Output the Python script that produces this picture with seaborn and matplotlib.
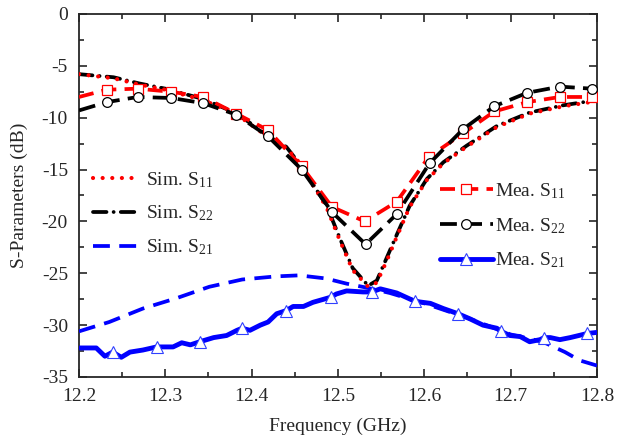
import numpy as np
import matplotlib
matplotlib.use("Agg")
import matplotlib.pyplot as plt
from matplotlib.ticker import MultipleLocator
import seaborn as sns

# ---- data ----
sim_s11_x = [12.20, 12.24, 12.27, 12.30, 12.344, 12.383, 12.418, 12.44, 12.456, 12.467,
             12.477, 12.487, 12.502, 12.517, 12.535, 12.545, 12.557, 12.568, 12.583,
             12.603, 12.622, 12.649, 12.684, 12.722, 12.761, 12.80]
sim_s11_y = [-5.8, -6.2, -6.8, -7.3, -8.3, -9.7, -11.8, -12.9, -14.4, -16.0,
             -17.3, -18.7, -21.8, -24.7, -26.3, -25.9, -23.7, -21.5, -18.6,
             -16.0, -14.4, -12.8, -10.9, -9.6, -8.9, -8.4]
sim_s22_y = [-5.8, -6.1, -6.7, -7.2, -8.2, -9.6, -11.7, -12.8, -14.5, -15.9,
             -17.2, -18.5, -21.6, -24.5, -26.2, -25.7, -23.4, -21.3, -18.5,
             -15.9, -14.3, -12.7, -10.8, -9.5, -8.8, -8.3]

sim_s21_x = [12.20, 12.235, 12.274, 12.313, 12.351, 12.389, 12.428, 12.455, 12.486,
             12.51, 12.534, 12.56, 12.60, 12.65, 12.70, 12.737, 12.763, 12.78, 12.80]
sim_s21_y = [-30.6, -29.7, -28.4, -27.4, -26.3, -25.6, -25.3, -25.2, -25.5,
             -26.0, -26.4, -26.9, -27.9, -29.3, -30.9, -31.6, -32.6, -33.4, -33.9]

mea_s11_x = [12.20, 12.232, 12.268, 12.307, 12.344, 12.382, 12.419, 12.458, 12.493,
             12.531, 12.568, 12.605, 12.645, 12.681, 12.719, 12.757, 12.794]
mea_s11_y = [-8.0, -7.3, -7.2, -7.5, -8.0, -9.6, -11.2, -14.7, -18.6,
             -20.0, -18.1, -13.8, -11.5, -9.4, -8.5, -8.0, -8.0]

mea_s22_x = [12.20, 12.232, 12.268, 12.307, 12.344, 12.382, 12.419, 12.458, 12.493,
             12.532, 12.568, 12.606, 12.645, 12.681, 12.719, 12.757, 12.794, 12.80]
mea_s22_y = [-9.3, -8.5, -8.0, -8.1, -8.6, -9.7, -11.8, -15.0, -19.1,
             -22.2, -19.3, -14.4, -11.1, -8.9, -7.6, -7.0, -7.2, -7.2]

mea_s21_x = [12.201, 12.220, 12.230, 12.239, 12.249, 12.259, 12.274, 12.290, 12.309,
             12.319, 12.329, 12.340, 12.356, 12.371, 12.383, 12.389, 12.398, 12.410,
             12.419, 12.429, 12.440, 12.448, 12.460, 12.471, 12.492, 12.498, 12.510,
             12.529, 12.539, 12.549, 12.568, 12.589, 12.607, 12.622, 12.639, 12.653,
             12.668, 12.684, 12.689, 12.699, 12.711, 12.722, 12.734, 12.739, 12.746,
             12.757, 12.769, 12.784, 12.789, 12.80]
mea_s21_y = [-32.2, -32.2, -33.0, -32.6, -33.1, -32.6, -32.4, -32.1, -32.1,
             -31.7, -31.9, -31.6, -31.2, -31.0, -30.5, -30.3, -30.5, -30.0,
             -29.7, -28.9, -28.6, -28.2, -28.2, -27.8, -27.3, -27.0, -26.7,
             -26.8, -26.8, -26.5, -26.9, -27.7, -27.9, -28.4, -28.9, -29.4,
             -30.0, -30.3, -30.6, -31.0, -31.1, -31.6, -31.4, -31.2, -31.2,
             -31.4, -31.2, -30.9, -30.8, -30.7]
mea_s21_marks = [12.239, 12.290, 12.340, 12.389, 12.440, 12.492, 12.539, 12.589,
                 12.639, 12.689, 12.739, 12.789]

sns.set_style("ticks")
plt.rcParams["font.family"] = ["Liberation Serif", "DejaVu Serif"]
plt.rcParams["mathtext.default"] = "regular"
plt.rcParams["axes.unicode_minus"] = False

fig = plt.figure(figsize=(6.29, 4.43), dpi=100)
ax = fig.add_axes([0.1256, 0.149, 0.8235, 0.8194])

mk_idx = list(np.where(np.isin(mea_s21_x, mea_s21_marks))[0])

# simulated
sns.lineplot(x=sim_s11_x, y=sim_s11_y, ax=ax, color="red", lw=3.0,
             linestyle=(0, (0.01, 2.3)), zorder=4, label="Sim. S$_{11}$")
sns.lineplot(x=sim_s11_x, y=sim_s22_y, ax=ax, color="black", lw=2.7,
             linestyle=(0, (3.6, 1.9, 0.01, 1.9)), zorder=3, label="Sim. S$_{22}$")
sns.lineplot(x=sim_s21_x, y=sim_s21_y, ax=ax, color="blue", lw=2.7,
             linestyle=(0, (4.5, 2.5)), zorder=3, label="Sim. S$_{21}$")

# measured
sns.lineplot(x=mea_s11_x, y=mea_s11_y, ax=ax, color="red", lw=2.7,
             linestyle=(0, (4.0, 2.2)), marker="s", markersize=6.5, mfc="white",
             mec="red", mew=0.9, markevery=list(range(1, len(mea_s11_x))),
             zorder=5, label="Mea. S$_{11}$")
sns.lineplot(x=mea_s22_x, y=mea_s22_y, ax=ax, color="black", lw=2.7,
             linestyle=(0, (4.5, 2.2)), marker="o", markersize=7, mfc="white",
             mec="black", mew=0.9, markevery=list(range(1, len(mea_s22_x) - 1)),
             zorder=5, label="Mea. S$_{22}$")
sns.lineplot(x=mea_s21_x, y=mea_s21_y, ax=ax, color="blue", lw=3.5,
             marker="^", markersize=8, mfc="white", mec="#3040ff", mew=0.8,
             markevery=mk_idx, zorder=5, label="Mea. S$_{21}$")

# round caps so the dotted / dash-dot lines show real dots
for ln in ax.lines[:2]:
    ln.set_dash_capstyle("round")

ax.set_xlim(12.2, 12.8)
ax.set_ylim(-35, 0)
ax.xaxis.set_major_locator(MultipleLocator(0.1))
ax.xaxis.set_minor_locator(MultipleLocator(0.05))
ax.yaxis.set_major_locator(MultipleLocator(5))
ax.yaxis.set_minor_locator(MultipleLocator(2.5))
ax.tick_params(which="both", direction="in", top=True, right=True, labelsize=14,
               width=1.2)
ax.tick_params(axis="x", pad=8)
ax.tick_params(axis="y", pad=8)
ax.tick_params(which="major", length=6)
ax.tick_params(which="minor", length=3.5)
for s in ax.spines.values():
    s.set_linewidth(1.3)
    s.set_visible(True)

ax.set_xlabel("Frequency (GHz)", fontsize=14, labelpad=9)
ax.set_ylabel("S-Parameters (dB)", fontsize=14, labelpad=10)

handles, labels = ax.get_legend_handles_labels()
for h in handles[:2]:
    h.set_dash_capstyle("round")
leg1 = ax.legend(handles[:3], labels[:3], loc="upper left", bbox_to_anchor=(0.027, 0.57),
                 frameon=False, fontsize=14, handlelength=2.3, handletextpad=0.45,
                 labelspacing=0.72, borderpad=0, borderaxespad=0)
ax.add_artist(leg1)
ax.legend(handles[3:], labels[3:], loc="upper left", bbox_to_anchor=(0.697, 0.54),
          frameon=False, fontsize=14, handlelength=2.7, handletextpad=0.15,
          labelspacing=0.78, borderpad=0, borderaxespad=0)

fig.savefig("out.png", dpi=100)
